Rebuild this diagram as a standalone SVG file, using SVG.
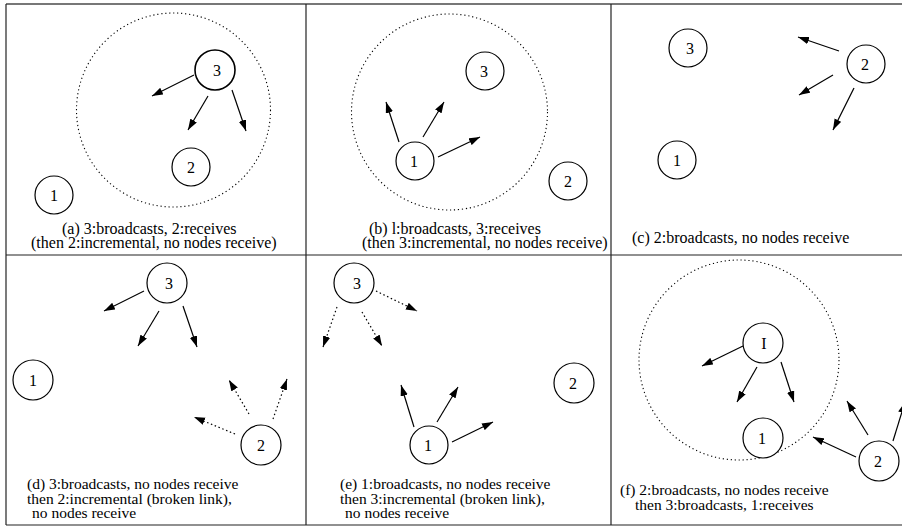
<svg xmlns="http://www.w3.org/2000/svg" width="902" height="529" viewBox="0 0 902 529">
<defs>
<style>
.bg{fill:#fff}
.frame{stroke:#222;stroke-width:1.2;fill:none}
.frametop{stroke:#777;stroke-width:2;fill:none}
.node circle{fill:#fff;stroke:#000;stroke-width:1.2}
.node text{font-family:"Liberation Serif","Times New Roman",serif;font-size:16px;text-anchor:middle;fill:#000}
.range{fill:none;stroke:#000;stroke-width:1.1;stroke-dasharray:1.2 2.8}
.cap{font-family:"Liberation Serif","Times New Roman",serif;font-size:16px;fill:#000}
.cap2{font-family:"Liberation Serif","Times New Roman",serif;font-size:15.5px;fill:#000}
.arr{stroke:#000;stroke-width:1.2;fill:none;marker-end:url(#ah)}
.dot{stroke-dasharray:1.5 2.6}
</style>
<marker id="ah" markerUnits="userSpaceOnUse" markerWidth="12" markerHeight="8" refX="11" refY="3.75" orient="auto">
<path d="M0,0 L11,3.75 L0,7.5 z" fill="#000"/>
</marker>
</defs>
<rect class="bg" x="0" y="0" width="902" height="529"/>
<g id="frame">
<line class="frametop" x1="6" y1="4" x2="902" y2="4"/>
<line class="frame" x1="6" y1="4" x2="6" y2="525"/>
<line class="frame" x1="306" y1="4" x2="306" y2="525"/>
<line class="frame" x1="611" y1="4" x2="611" y2="525"/>
<line class="frame" x1="6" y1="255" x2="902" y2="255"/>
<line class="frame" x1="6" y1="525" x2="902" y2="525"/>
</g>
<g id="ranges">
<circle class="range" cx="173.5" cy="110" r="97"/>
<circle class="range" cx="449.5" cy="112" r="98"/>
<circle class="range" cx="739" cy="360" r="100"/>
</g>
<g id="connectors">
<line class="arr" x1="194" y1="75" x2="152" y2="96"/>
<line class="arr" x1="208" y1="96" x2="188" y2="130"/>
<line class="arr" x1="232" y1="90" x2="246" y2="131"/>
<line class="arr" x1="399" y1="142" x2="386" y2="102"/>
<line class="arr" x1="423" y1="137" x2="444" y2="102"/>
<line class="arr" x1="438" y1="157" x2="480" y2="137"/>
<line class="arr" x1="839" y1="51" x2="798" y2="37"/>
<line class="arr" x1="833" y1="75" x2="799" y2="95"/>
<line class="arr" x1="854" y1="88" x2="833" y2="130"/>
<line class="arr" x1="144" y1="291" x2="104" y2="311"/>
<line class="arr" x1="159" y1="311" x2="138" y2="346"/>
<line class="arr" x1="183" y1="306" x2="197" y2="347"/>
<line class="arr dot" x1="235" y1="434" x2="194" y2="417"/>
<line class="arr dot" x1="249" y1="414" x2="229" y2="380"/>
<line class="arr dot" x1="273" y1="419" x2="287" y2="379"/>
<line class="arr dot" x1="376" y1="291" x2="417" y2="311"/>
<line class="arr dot" x1="337" y1="307" x2="323" y2="347"/>
<line class="arr dot" x1="362" y1="312" x2="382" y2="346"/>
<line class="arr" x1="414" y1="427" x2="401" y2="385"/>
<line class="arr" x1="437" y1="422" x2="458" y2="387"/>
<line class="arr" x1="452" y1="442" x2="493" y2="422"/>
<line class="arr" x1="743" y1="346" x2="702" y2="366"/>
<line class="arr" x1="757" y1="367" x2="737" y2="402"/>
<line class="arr" x1="781" y1="362" x2="794" y2="402"/>
<line class="arr" x1="856" y1="457" x2="813" y2="437"/>
<line class="arr" x1="868" y1="435" x2="847" y2="401"/>
<line class="arr" x1="893" y1="441" x2="905" y2="402"/>
</g>
<g id="panel-a">
<g id="a-n3" class="node"><circle cx="215" cy="70" r="20" style="stroke-width:1.6"/><text x="217" y="75.5">3</text></g>
<g id="a-n2" class="node"><circle cx="191" cy="167" r="19"/><text x="191" y="172.5">2</text></g>
<g id="a-n1" class="node"><circle cx="54" cy="195" r="19"/><text x="54" y="200.5">1</text></g>
<text class="cap" x="62" y="234">(a) 3:broadcasts, 2:receives</text>
<text class="cap" x="31" y="248">(then 2:incremental, no nodes receive)</text>
</g>
<g id="panel-b">
<g id="b-n3" class="node"><circle cx="485" cy="71" r="19"/><text x="484" y="76.5">3</text></g>
<g id="b-n1" class="node"><circle cx="415" cy="161" r="19"/><text x="414" y="166.5">1</text></g>
<g id="b-n2" class="node"><circle cx="568" cy="181" r="19"/><text x="568" y="186.5">2</text></g>
<text class="cap" x="369" y="234">(b) l:broadcasts, 3:receives</text>
<text class="cap" x="362" y="248">(then 3:incremental, no nodes receive)</text>
</g>
<g id="panel-c">
<g id="c-n3" class="node"><circle cx="688" cy="48" r="19"/><text x="690" y="53.5">3</text></g>
<g id="c-n2" class="node"><circle cx="866" cy="64" r="19"/><text x="865" y="69.5">2</text></g>
<g id="c-n1" class="node"><circle cx="677" cy="160" r="19"/><text x="677" y="165.5">1</text></g>
<text class="cap" x="632" y="243">(c) 2:broadcasts, no nodes receive</text>
</g>
<g id="panel-d">
<g id="d-n3" class="node"><circle cx="167" cy="283" r="20"/><text x="169" y="288.5">3</text></g>
<g id="d-n1" class="node"><circle cx="33" cy="380" r="20"/><text x="33" y="385.5">1</text></g>
<g id="d-n2" class="node"><circle cx="261" cy="445" r="20"/><text x="261" y="450.5">2</text></g>
<text class="cap2" x="27" y="489">(d) 3:broadcasts, no nodes receive</text>
<text class="cap2" x="27" y="503.5">then 2:incremental (broken link),</text>
<text class="cap2" x="32" y="518">no nodes receive</text>
</g>
<g id="panel-e">
<g id="e-n3" class="node"><circle cx="354" cy="283" r="20"/><text x="357" y="288.5">3</text></g>
<g id="e-n2" class="node"><circle cx="574" cy="383" r="20"/><text x="573" y="388.5">2</text></g>
<g id="e-n1" class="node"><circle cx="429" cy="445" r="19"/><text x="428" y="450.5">1</text></g>
<text class="cap2" x="340" y="489">(e) 1:broadcasts, no nodes receive</text>
<text class="cap2" x="340" y="503.5">then 3:incremental (broken link),</text>
<text class="cap2" x="345" y="518">no nodes receive</text>
</g>
<g id="panel-f">
<g id="f-nI" class="node"><circle cx="763" cy="343" r="20"/><text x="764" y="348.5">I</text></g>
<g id="f-n1" class="node"><circle cx="763" cy="438" r="20"/><text x="762" y="443.5">1</text></g>
<g id="f-n2" class="node"><circle cx="879" cy="461" r="20"/><text x="878" y="466.5">2</text></g>
<text class="cap2" x="620" y="495">(f) 2:broadcasts, no nodes receive</text>
<text class="cap2" x="635" y="509.5">then 3:broadcasts, 1:receives</text>
</g>
</svg>
